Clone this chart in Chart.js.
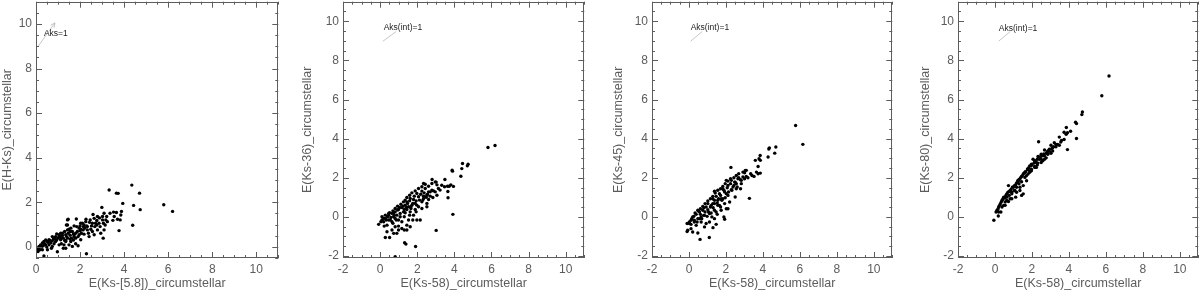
<!DOCTYPE html>
<html>
<head>
<meta charset="utf-8">
<script src="https://cdn.jsdelivr.net/npm/chart.js@4.4.1/dist/chart.umd.min.js"></script>
<style>
  body { margin: 0; background: #fff; width: 1200px; height: 291px; position: relative; overflow: hidden; }
  canvas { position: absolute; top: 0; }
</style>
</head>
<body>
<canvas id="p1" width="280" height="291" style="left:0px"></canvas>
<canvas id="p2" width="286" height="291" style="left:300px"></canvas>
<canvas id="p3" width="283" height="291" style="left:611px"></canvas>
<canvas id="p4" width="282" height="291" style="left:918px"></canvas>
<script>
// [E(Ks-[5.8]), E(H-Ks)]
const hksPts = [
  [4.35,2.77],[3.32,2.55],[3.65,2.41],[3.73,2.40],[4.70,2.41],[3.94,1.95],[4.43,1.86],[5.80,1.89],[4.73,1.67],[6.20,1.59],
  [4.39,0.97],[3.77,0.73],[2.29,-0.31],[0.36,-0.41],[2.99,1.77],[3.52,1.56],[3.65,1.54],[3.88,1.59],[3.82,1.21],[3.49,1.19],
  [3.21,1.36],[3.09,1.51],[3.02,1.21],[2.88,1.30],[2.59,1.45],[2.70,1.06],[2.43,1.10],[2.27,1.24],[2.18,0.98],[2.03,1.06],
  [1.83,1.25],[1.43,1.21],[1.38,0.98],[1.50,0.79],[1.73,0.94],[1.96,0.84],[2.14,0.76],[2.33,0.76],[2.56,0.69],[2.79,0.76],
  [3.14,0.98],[3.09,0.76],[2.64,0.54],[2.94,0.61],[3.05,0.39],[2.41,0.46],[2.18,0.57],[1.96,0.54],[1.73,0.46],[1.35,0.54],
  [1.12,0.61],[1.05,0.46],[0.82,0.39],[0.59,0.32],[0.36,0.24],[0.21,0.09],[0.06,-0.06],[0.14,0.02],[0.44,0.09],[0.67,0.17],
  [0.89,0.24],[1.12,0.32],[1.43,0.39],[1.58,0.24],[1.80,0.14],[2.03,0.32],[1.27,0.09],[0.97,-0.22],[0.74,0.02],[0.52,-0.13],
  [0.29,-0.13],[1.65,0.02],[1.35,-0.06],
  [0.52,0.24],[0.59,0.09],[0.74,0.27],[0.85,0.36],[0.94,0.31],[1.00,0.39],[1.09,0.46],[1.20,0.51],[1.24,0.39],[1.30,0.29],
  [1.39,0.46],[1.46,0.61],[1.55,0.52],[1.61,0.39],[1.70,0.58],[1.80,0.61],[1.88,0.69],[2.00,0.72],[2.06,0.61],[2.15,0.91],
  [2.21,0.84],[2.30,0.94],[2.38,0.61],[2.49,0.79],[2.52,0.94],[2.67,0.91],[2.76,0.98],[2.86,1.06],[2.91,0.91],[3.02,1.36],
  [3.06,1.06],[3.17,1.21],[3.24,1.13],[3.36,1.51],[3.55,1.36],[3.70,1.24],[3.85,1.43],[1.43,0.98],[1.46,1.24],[1.55,0.69],
  [1.70,0.31],[1.80,0.39],[1.91,0.46],[0.82,0.14],[0.70,-0.06],[0.49,-0.01],[0.18,-0.13],[0.09,-0.21],[0.03,-0.10],[0.33,0.05],
  [1.15,0.14],[1.24,-0.06],[1.50,0.09],[1.91,0.05],[1.05,0.09],[1.35,0.29],
  [0.14,-0.13],[0.24,-0.01],[0.39,0.14],[0.55,0.20],[0.64,0.29],[0.79,0.35],[0.89,0.46],[1.05,0.54],[1.20,0.61],[1.30,0.69],
  [1.43,0.76],[1.58,0.84],[1.65,0.69],[1.85,0.91],[2.00,0.94],[2.11,1.06],[2.26,1.13],[2.46,1.21],[2.64,1.28],[2.79,1.36],
  [0.29,0.17],[0.44,0.31],[0.74,0.46],[0.94,0.58],[1.15,0.39],[1.35,0.24],[1.55,0.35],[1.73,0.54],[2.03,0.79],[2.33,0.91],
  [2.56,1.06],[2.76,1.18]
];

// [E(Ks-58), E(Ks-36)]
const k36Pts = [
  [5.81,3.55],[6.19,3.65],[4.44,2.73],[4.74,2.69],[4.70,2.61],[4.40,2.47],[3.88,2.39],[3.90,2.34],[4.35,2.08],[2.80,1.91],
  [2.34,1.71],[3.02,1.78],[3.06,1.64],[3.49,1.91],[3.72,1.57],[3.81,1.64],[3.95,1.56],[3.47,1.54],[3.23,1.37],[3.65,1.30],
  [2.97,1.28],[3.06,1.11],[3.66,0.98],[2.79,1.37],[2.61,1.28],[2.43,1.45],[2.25,1.32],[1.98,1.20],[2.07,1.03],[2.34,1.06],
  [2.61,0.89],[2.84,0.99],[2.52,0.69],[2.25,0.77],[1.80,0.89],[1.62,0.94],[1.44,0.77],[1.71,0.60],[1.98,0.60],[2.25,0.43],
  [2.52,0.52],[1.89,0.38],[1.53,0.52],[1.35,0.60],[1.17,0.48],[0.99,0.38],[0.81,0.26],[0.64,0.18],[0.46,0.09],[0.28,-0.08],
  [0.10,-0.16],[-0.08,-0.38],[0.19,-0.25],[0.37,-0.42],[0.55,-0.16],[0.73,0.01],[0.90,0.09],[1.08,0.18],[1.35,0.21],[1.62,0.26],
  [1.80,0.09],[1.98,-0.16],[1.53,-0.16],[1.44,-0.42],[1.17,-0.25],[0.99,-0.16],[0.81,-0.50],[0.64,-0.67],[0.37,-0.76],[0.28,-1.05],
  [0.51,-1.05],[0.90,-0.84],[1.17,-0.59],[1.44,-0.67],[3.92,0.13],[3.02,-0.69],[1.32,-1.32],[1.39,-1.39],[1.91,-1.51],[0.81,-2.03],
  [0.19,-0.08],[0.40,0.01],[0.51,0.21],[0.69,0.31],[0.76,0.09],[0.94,0.35],[1.05,0.48],[1.23,0.55],[1.30,0.38],[1.41,0.48],
  [1.48,0.69],[1.59,0.82],[1.66,0.43],[1.76,0.69],[1.84,1.06],[1.94,0.82],[2.12,0.86],[2.19,1.16],[2.30,0.86],[2.37,1.23],
  [2.48,1.00],[2.55,1.16],[2.70,1.06],[2.88,1.33],[3.14,1.45],[3.32,1.62],[3.63,1.57],[0.87,-0.16],[0.69,-0.33],[0.46,-0.16],
  [0.22,-0.47],[0.04,-0.25],[0.99,-0.47],[1.30,0.01],[1.59,0.09],[1.76,-0.16],[1.94,0.26],[1.30,-0.67],[1.62,-0.50],[0.99,-0.67],
  [0.73,-0.84],[2.16,-0.16],
  [0.10,0.01],[0.28,0.09],[0.46,0.18],[0.58,-0.03],[0.73,0.21],[0.81,0.43],[0.94,0.55],[1.12,0.65],[1.26,0.77],[1.35,0.86],
  [1.44,0.99],[1.59,1.11],[1.71,1.23],[1.89,1.33],[2.07,1.45],[2.25,1.54],[2.43,1.67],[2.61,1.57],[2.79,1.71],[2.97,1.79],
  [0.33,-0.16],[0.64,-0.25],[0.81,-0.08],[1.08,0.01],[1.26,0.26],[1.44,0.38],[1.66,0.52],[1.89,0.69],[2.07,0.52],[2.34,0.94],
  [2.52,1.11],[2.70,1.28]
];

// [E(Ks-58), E(Ks-45)]
const k45Pts = [
  [5.77,4.67],[6.16,3.71],[4.70,3.57],[4.64,3.26],[4.35,3.53],[4.32,3.47],[4.28,3.06],[3.85,3.14],[3.79,2.97],[3.59,2.89],
  [3.86,2.89],[3.74,2.58],[2.27,2.53],[3.05,2.38],[3.01,2.26],[3.65,2.29],[3.74,2.21],[3.86,2.24],[3.41,2.12],[3.52,2.07],
  [3.19,2.00],[2.92,2.04],[2.79,1.90],[2.65,1.95],[2.47,1.78],[2.29,1.87],[2.02,1.87],[2.11,1.61],[2.38,1.53],[2.56,1.44],
  [2.79,1.44],[2.50,1.02],[3.27,0.95],[1.83,1.44],[1.38,1.31],[1.65,1.19],[1.93,1.27],[2.11,1.10],[1.83,0.93],[1.56,0.85],
  [1.29,0.93],[1.38,0.68],[1.65,0.59],[1.20,0.59],[1.02,0.68],[0.93,0.51],[1.93,0.68],[2.20,0.76],[2.11,0.42],[1.74,0.34],
  [1.47,0.25],[1.20,0.20],[0.75,0.34],[0.57,0.25],[0.39,0.13],[0.20,0.00],[0.11,-0.17],[0.02,-0.34],[-0.10,-0.75],[0.29,-0.17],
  [0.48,-0.09],[0.66,0.00],[0.84,0.08],[1.11,0.17],[0.66,-0.26],[0.39,-0.43],[0.93,-0.34],[1.38,-0.09],[1.89,0.00],[1.93,-0.12],
  [1.47,-0.38],[1.30,-0.55],[0.20,-0.77],[0.48,-0.82],[0.60,-1.15],[1.10,-1.05],[-0.07,-0.68],[0.11,-0.60],[-0.10,-0.34],
  [0.48,0.34],[0.62,0.13],[0.80,0.47],[0.87,0.25],[1.02,0.37],[1.16,0.51],[1.29,0.68],[1.38,0.85],[1.47,1.05],[1.56,0.59],
  [1.60,0.93],[1.71,1.10],[1.78,0.85],[1.89,1.36],[1.96,0.98],[2.07,1.49],[2.14,1.27],[2.25,1.70],[2.32,1.36],[2.43,1.61],
  [2.50,1.78],[2.61,1.53],[2.69,2.00],[2.83,1.70],[3.01,1.95],[3.10,2.07],[3.34,2.21],[0.44,-0.26],[0.69,-0.09],[0.98,0.03],
  [1.24,-0.00],[1.53,0.13],[1.11,-0.26],[0.84,-0.51],[1.71,0.51],[2.02,0.42],[1.38,0.34],
  [0.02,-0.26],[0.15,-0.09],[0.26,0.03],[0.33,0.20],[0.51,0.30],[0.62,0.42],[0.75,0.54],[0.87,0.68],[1.02,0.81],[1.16,0.93],
  [1.29,1.05],[1.42,1.22],[1.56,1.36],[1.71,1.44],[1.83,1.56],[1.96,1.70],[2.11,1.83],[2.25,1.95],[2.43,2.00],[2.56,2.12],
  [2.69,2.21],[2.92,2.29],[3.10,2.38],[0.11,-0.38],[0.29,-0.26],[0.57,-0.09],[0.80,0.08],[1.06,0.25],[1.31,0.47],[1.53,0.71],
  [1.74,0.93],[2.02,1.19],[2.29,1.39],[2.56,1.70],[2.83,1.87]
];

// [E(Ks-58), E(Ks-80)]
const k80Pts = [
  [6.17,7.20],[5.78,6.19],[4.73,5.36],[4.70,5.23],[4.36,4.84],[4.41,4.77],[3.86,4.57],[4.41,4.01],[3.74,4.33],[3.92,4.30],
  [3.85,4.22],[3.48,4.08],[3.60,3.91],[2.36,3.84],[3.92,3.44],[3.21,3.79],[3.30,3.71],[3.03,3.66],[3.12,3.54],[2.94,3.46],
  [2.86,3.37],[2.68,3.42],[2.77,3.25],[2.50,3.20],[2.33,3.09],[2.41,2.95],[2.15,2.87],[2.24,2.78],[2.06,2.95],[1.97,2.70],
  [1.88,2.61],[1.76,2.45],[1.62,2.28],[1.53,2.19],[1.44,2.07],[1.35,1.94],[1.26,1.80],[1.12,1.65],[0.99,1.52],[0.82,1.35],
  [0.64,1.18],[0.52,0.96],[0.38,0.84],[0.29,0.67],[0.20,0.51],[0.06,0.25],[-0.06,-0.17],[0.73,1.60],[1.53,1.18],[1.44,1.10],
  [0.32,0.25],[0.18,0.05],[0.55,0.76],[0.91,1.18],[1.08,1.35],[1.70,2.11],[1.88,2.36],[2.15,2.53],[2.50,2.78],[2.68,2.95],
  [0.11,0.34],[0.17,0.42],[0.25,0.59],[0.34,0.76],[0.41,0.89],[0.47,1.01],[0.59,1.10],[0.70,1.26],[0.77,1.30],[0.87,1.40],
  [0.94,1.52],[1.05,1.60],[1.17,1.74],[1.23,1.85],[1.30,1.91],[1.40,2.02],[1.48,2.11],[1.58,2.24],[1.65,2.31],[1.76,2.41],
  [1.83,2.51],[1.94,2.61],[2.01,2.65],[2.11,2.75],[2.18,2.85],[2.29,2.95],[2.36,2.98],[2.47,3.09],[2.59,3.12],[2.64,3.22],
  [2.82,3.32],[2.94,3.36],[3.07,3.49],[3.17,3.59],[3.39,3.71],[3.56,3.83],[0.73,0.79],[1.12,1.01],[1.35,1.35],[0.55,0.59],
  [0.91,0.93],[1.53,1.60],[1.97,2.36],[2.29,2.65],[2.77,3.02],
  [0.20,0.25],[0.38,0.51],[0.47,0.59],[0.64,0.84],[0.77,1.10],[0.91,1.26],[1.05,1.35],[1.17,1.52],[1.30,1.69],[1.44,1.80],
  [1.62,2.02],[1.79,2.19],[1.97,2.44],[2.15,2.58],[2.32,2.75],[2.50,2.95],[2.68,3.12],[2.86,3.20],[3.12,3.37],[3.30,3.59],
  [3.48,3.66],[0.64,1.01],[0.82,0.93],[1.17,1.26],[1.35,1.52],[1.71,1.85],[1.88,2.28],[2.24,2.53],[2.59,2.87],[3.03,3.25],
  [3.74,3.96],[4.09,4.38]
];

const xTitles = ["E(Ks-[5.8])_circumstellar", "E(Ks-58)_circumstellar", "E(Ks-58)_circumstellar", "E(Ks-58)_circumstellar"];
const yTitles = ["E(H-Ks)_circumstellar", "E(Ks-36)_circumstellar", "E(Ks-45)_circumstellar", "E(Ks-80)_circumstellar"];
const noteLabels = ["Aks=1", "Aks(int)=1", "Aks(int)=1", "Aks(int)=1"];

const axisGrey = "#5c5c5c";
const fontFamily = "'Liberation Sans', Arial, Helvetica, sans-serif";

// inward ticks on all four sides plus the frame
const frameTicks = {
  id: "frameTicks",
  afterDraw(chart) {
    const { ctx, chartArea: a, scales: { x, y } } = chart;
    ctx.save();
    ctx.strokeStyle = axisGrey;
    ctx.lineWidth = 1;
    ctx.strokeRect(Math.round(a.left) + 0.5, Math.round(a.top) + 0.5,
      Math.round(a.right - a.left) - 1, Math.round(a.bottom - a.top) - 1);
    ctx.beginPath();
    for (let v = Math.ceil(x.min * 2) / 2; v <= x.max + 1e-9; v += 0.5) {
      const px = Math.round(x.getPixelForValue(v)) + 0.5;
      const len = Math.abs(v % 2) < 1e-6 ? 6 : 3;
      ctx.moveTo(px, a.bottom); ctx.lineTo(px, a.bottom - len);
      ctx.moveTo(px, a.top); ctx.lineTo(px, a.top + len);
    }
    for (let v = Math.ceil(y.min * 2) / 2; v <= y.max + 1e-9; v += 0.5) {
      const py = Math.round(y.getPixelForValue(v)) + 0.5;
      const len = Math.abs(v % 2) < 1e-6 ? 6 : 3;
      ctx.moveTo(a.left, py); ctx.lineTo(a.left + len, py);
      ctx.moveTo(a.right, py); ctx.lineTo(a.right - len, py);
    }
    ctx.stroke();
    ctx.restore();
  }
};

// reddening vector with its label
const reddening = {
  id: "reddening",
  afterDatasetsDraw(chart, args, opts) {
    if (!opts.label) return;
    const { ctx, scales: { x, y } } = chart;
    const x0 = x.getPixelForValue(opts.from[0]), y0 = y.getPixelForValue(opts.from[1]);
    const x1 = x.getPixelForValue(opts.to[0]), y1 = y.getPixelForValue(opts.to[1]);
    ctx.save();
    ctx.strokeStyle = "#b8b8b8";
    ctx.lineWidth = 0.8;
    ctx.beginPath();
    ctx.moveTo(x0, y0); ctx.lineTo(x1, y1);
    if (opts.head) {
      const ang = Math.atan2(y1 - y0, x1 - x0);
      ctx.moveTo(x1, y1); ctx.lineTo(x1 - 5 * Math.cos(ang - 0.45), y1 - 5 * Math.sin(ang - 0.45));
      ctx.moveTo(x1, y1); ctx.lineTo(x1 - 5 * Math.cos(ang + 0.45), y1 - 5 * Math.sin(ang + 0.45));
    }
    ctx.stroke();
    ctx.fillStyle = "#222";
    ctx.font = "8.5px " + fontFamily;
    ctx.textBaseline = "middle";
    ctx.textAlign = "left";
    ctx.fillText(opts.label, x.getPixelForValue(opts.at[0]), y.getPixelForValue(opts.at[1]));
    ctx.restore();
  }
};

function makePanel(id, pts, i, cfg) {
  const tickFont = { family: fontFamily, size: 12 };
  const titleFont = { family: fontFamily, size: 12.5 };
  return new Chart(document.getElementById(id), {
    type: "scatter",
    data: {
      datasets: [{
        data: pts.map(p => ({ x: p[0], y: p[1] })),
        backgroundColor: "#000",
        borderColor: "#000",
        borderWidth: 0,
        pointRadius: 1.7,
        pointHoverRadius: 1.7,
      }],
    },
    options: {
      responsive: false,
      animation: false,
      devicePixelRatio: 1,
      events: [],
      layout: { padding: { top: 0, right: 1, left: 0, bottom: 0 } },
      plugins: {
        legend: { display: false },
        tooltip: { enabled: false },
        reddening: { label: noteLabels[i], from: cfg.from, to: cfg.to, at: cfg.at, head: cfg.head },
      },
      scales: {
        x: {
          type: "linear",
          min: cfg.xMin,
          max: 11,
          afterFit: (s) => { s.height = 33; s.paddingLeft = 0; s.paddingRight = 0; },
          border: { display: false },
          grid: { display: false, drawTicks: false },
          ticks: { stepSize: 2, includeBounds: false, color: axisGrey, font: tickFont, padding: 4, maxRotation: 0 },
          title: { display: true, text: xTitles[i], color: axisGrey, font: titleFont, padding: 0 },
        },
        y: {
          type: "linear",
          min: cfg.yMin,
          max: 11,
          afterFit: (s) => { s.width = cfg.yWidth; s.paddingTop = 0; s.paddingBottom = 0; },
          border: { display: false },
          grid: { display: false, drawTicks: false },
          ticks: { stepSize: 2, includeBounds: false, color: axisGrey, font: tickFont, padding: 4 },
          title: { display: true, text: yTitles[i], color: axisGrey, font: titleFont, padding: 0 },
        },
      },
    },
    plugins: [frameTicks, reddening],
  });
}

makePanel("p1", hksPts, 0, { xMin: 0, yMin: -0.5, yWidth: 36, from: [0.1, 9.0], to: [0.86, 10.05], at: [0.36, 9.55], head: true });
makePanel("p2", k36Pts, 1, { xMin: -2, yMin: -2.1, yWidth: 43, from: [0.15, 8.98], to: [0.87, 9.48], at: [0.19, 9.67] });
makePanel("p3", k45Pts, 2, { xMin: -2, yMin: -2.1, yWidth: 41, from: [0.09, 8.98], to: [0.72, 9.48], at: [0.09, 9.66] });
makePanel("p4", k80Pts, 3, { xMin: -2, yMin: -2.1, yWidth: 40, from: [0.21, 8.99], to: [0.83, 9.48], at: [0.21, 9.63] });
</script>
</body>
</html>
